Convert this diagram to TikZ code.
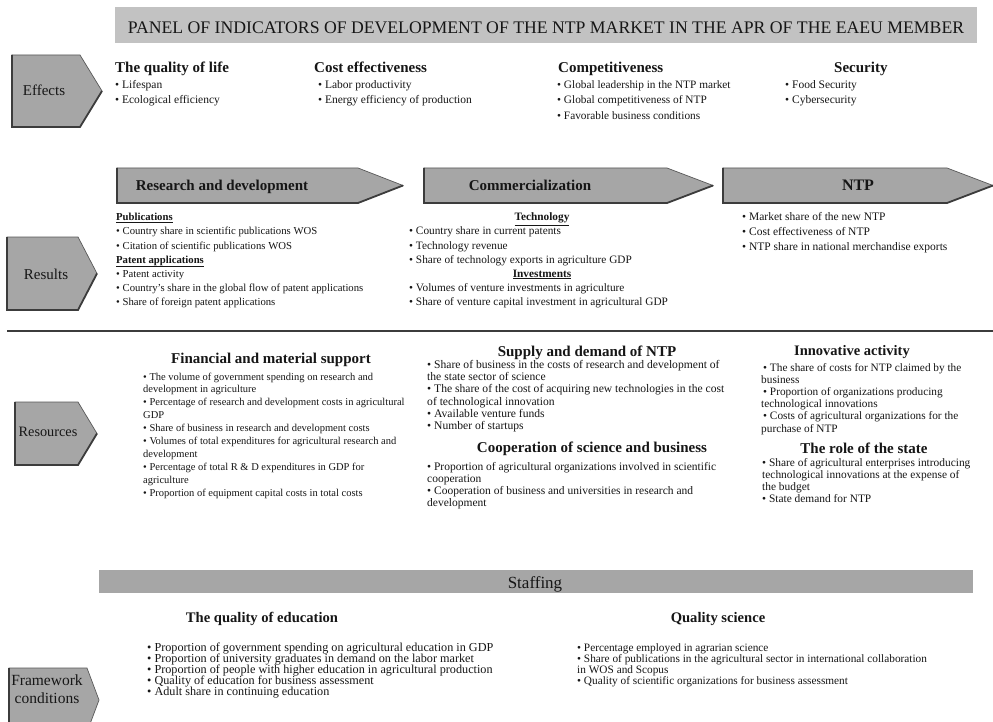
\documentclass[tikz,border=0pt]{standalone}
\usepackage{fontspec}
\setmainfont{Liberation Serif}
\definecolor{bannergray}{RGB}{194,194,194}
\definecolor{boxgray}{RGB}{166,166,166}
\definecolor{edgegray}{RGB}{88,88,88}
\definecolor{darkedge}{RGB}{60,60,60}
\definecolor{txt}{RGB}{22,22,22}
\tikzset{
  pent/.style={fill=boxgray, draw=edgegray, line width=0.7pt, line join=miter},
  pentedge/.style={draw=darkedge, line width=1.8pt, line join=miter},
  ttl/.style={inner sep=0, anchor=base, text=txt, font=\fontsize{17.7}{20}\selectfont},
  lbl/.style={inner sep=0, align=center, text=txt, font=\fontsize{15}{18}\selectfont},
  hd/.style={inner sep=0, anchor=base, text=txt, font=\fontsize{15}{18}\selectfont\bfseries},
  itm/.style={inner sep=0, anchor=base west, text=txt},
}
\begin{document}
\begin{tikzpicture}[x=1pt,y=-1pt]
\useasboundingbox (0,0) rectangle (993,722);
\fill[white] (0,0) rectangle (993,722);
\begin{scope}
\clip (0,0) rectangle (993,722);

% ---------- title banner ----------
\fill[bannergray] (115,7) rectangle (977,43);
\node[ttl] (title) at (546,34) {PANEL OF INDICATORS OF DEVELOPMENT OF THE NTP MARKET IN THE APR OF THE EAEU MEMBER};

% ---------- left pentagons ----------
\path[pent] (12,55) -- (80,55) -- (102,91) -- (80,127) -- (12,127) -- cycle;
\draw[pentedge] (12,55) -- (12,127) -- (80,127) -- (102,91);
\node[lbl] (leff) at (44,90) {Effects};

\path[pent] (7,237) -- (78,237) -- (97,273.5) -- (78,310) -- (7,310) -- cycle;
\draw[pentedge] (7,237) -- (7,310) -- (78,310) -- (97,273.5);
\node[lbl] (lres) at (46,274) {Results};

\path[pent] (15,402) -- (78,402) -- (97,433.5) -- (78,465) -- (15,465) -- cycle;
\draw[pentedge] (15,402) -- (15,465) -- (78,465) -- (97,433.5);
\node[lbl, font=\fontsize{14.3}{17}\selectfont] (lrsc) at (48,432) {Resources};

\path[pent] (9,668) -- (87,668) -- (99,700) -- (87,732) -- (9,732) -- cycle;
\draw[pentedge] (9,668) -- (9,732);
\node[lbl, font=\fontsize{15.5}{18.5}\selectfont] (lfw) at (47,689) {Framework\\conditions};

% ---------- Effects row ----------
\node[hd, anchor=base west] (hqol) at (115,73) {The quality of life};
\node[hd, anchor=base west] (hcost) at (314,73) {Cost effectiveness};
\node[hd, anchor=base west] (hcomp) at (558,73) {Competitiveness};
\node[hd, anchor=base west] (hsec) at (834,73) {Security};

\foreach \t [count=\i] in {{• Lifespan},{• Ecological efficiency}}
  \node[itm, font=\fontsize{11.5}{14}\selectfont] (qol\i) at (115,{88.5+(\i-1)*15.5}) {\t};
\foreach \t [count=\i] in {{• Labor productivity},{• Energy efficiency of production}}
  \node[itm, font=\fontsize{11.5}{14}\selectfont] (cost\i) at (318,{88.5+(\i-1)*15.5}) {\t};
\foreach \t [count=\i] in {{• Global leadership in the NTP market},{• Global competitiveness of NTP},{• Favorable business conditions}}
  \node[itm, font=\fontsize{11.3}{14}\selectfont] (comp\i) at (557,{88.5+(\i-1)*15.5}) {\t};
\foreach \t [count=\i] in {{• Food Security},{• Cybersecurity}}
  \node[itm, font=\fontsize{11.5}{14}\selectfont] (sec\i) at (785,{88.5+(\i-1)*15.5}) {\t};

% ---------- Results row: arrows ----------
\path[pent] (117,168) -- (358,168) -- (403,185.5) -- (358,203) -- (117,203) -- cycle;
\draw[pentedge] (117,168) -- (117,203) -- (358,203) -- (403,185.5);
\node[hd] (ard) at (222,190.5) {Research and development};

\path[pent] (424,168) -- (667,168) -- (713,185.5) -- (667,203) -- (424,203) -- cycle;
\draw[pentedge] (424,168) -- (424,203) -- (667,203) -- (713,185.5);
\node[hd] (acom) at (530,190.5) {Commercialization};

\path[pent] (723,168) -- (947,168) -- (993,185.5) -- (947,203) -- (723,203) -- cycle;
\draw[pentedge] (723,168) -- (723,203) -- (947,203) -- (993,185.5);
\node[hd, font=\fontsize{16}{18}\selectfont\bfseries] (antp) at (858,190.5) {NTP};

% ---------- Results row: texts ----------
\foreach \t [count=\i] in {{\underline{\textbf{Publications}}},{• Country share in scientific publications WOS},{• Citation of scientific publications WOS},{\underline{\textbf{Patent applications}}},{• Patent activity},{• Country’s share in the global flow of patent applications},{• Share of foreign patent applications}}
  \node[itm, font=\fontsize{10.7}{13}\selectfont] (rd\i) at (116,{221+(\i-1)*14}) {\t};

\node[itm, anchor=base, font=\fontsize{11.3}{13}\selectfont] (techh) at (542,221) {\underline{\textbf{Technology}}};
\foreach \t [count=\i] in {{• Country share in current patents},{• Technology revenue},{• Share of technology exports in agriculture GDP}}
  \node[itm, font=\fontsize{11.3}{13}\selectfont] (tech\i) at (409,{235+(\i-1)*14}) {\t};
\node[itm, anchor=base, font=\fontsize{11.3}{13}\selectfont] (invh) at (542,277) {\underline{\textbf{Investments}}};
\foreach \t [count=\i] in {{• Volumes of venture investments in agriculture},{• Share of venture capital investment in agricultural GDP}}
  \node[itm, font=\fontsize{11.3}{13}\selectfont] (inv\i) at (409,{291+(\i-1)*14}) {\t};

\foreach \t [count=\i] in {{• Market share of the new NTP},{• Cost effectiveness of NTP},{• NTP share in national merchandise exports}}
  \node[itm, font=\fontsize{11.5}{13}\selectfont] (ntp\i) at (742,{221+(\i-1)*15}) {\t};

% ---------- separator ----------
\coordinate (sepL) at (7,331);
\coordinate (sepR) at (993,331);
\draw[darkedge, line width=1.6pt] (sepL) -- (sepR);

% ---------- Resources row ----------
\node[hd] (hfin) at (271,363) {Financial and material support};
\foreach \t [count=\i] in {{• The volume of government spending on research and},{development in agriculture},{• Percentage of research and development costs in agricultural},{GDP},{• Share of business in research and development costs},{• Volumes of total expenditures for agricultural research and},{development},{• Percentage of total R \& D expenditures in GDP for},{agriculture},{• Proportion of equipment capital costs in total costs}}
  \node[itm, font=\fontsize{10.5}{12}\selectfont] (fin\i) at (143,{380+(\i-1)*12.9}) {\t};

\node[hd] (hsup) at (587,356) {Supply and demand of NTP};
\foreach \t [count=\i] in {{• Share of business in the costs of research and development of},{the state sector of science},{• The share of the cost of acquiring new technologies in the cost},{of technological innovation},{• Available venture funds},{• Number of startups}}
  \node[itm, font=\fontsize{11.6}{12}\selectfont] (sup\i) at (427,{368.5+(\i-1)*12.2}) {\t};

\node[hd] (hcoop) at (592,452) {Cooperation of science and business};
\foreach \t [count=\i] in {{• Proportion of agricultural organizations involved in scientific},{cooperation},{• Cooperation of business and universities in research and},{development}}
  \node[itm, font=\fontsize{11.5}{12}\selectfont] (coop\i) at (427,{470+(\i-1)*12}) {\t};

\node[hd, font=\fontsize{14.5}{18}\selectfont\bfseries] (hinn) at (852,355) {Innovative activity};
\foreach \t [count=\i] in {{\hspace*{2pt}• The share of costs for NTP claimed by the},{business},{\hspace*{2pt}• Proportion of organizations producing},{technological innovations},{\hspace*{2pt}• Costs of agricultural organizations for the},{purchase of NTP}}
  \node[itm, font=\fontsize{11.3}{12}\selectfont] (inn\i) at (761,{371+(\i-1)*12.2}) {\t};

\node[hd] (hrole) at (864,453) {The role of the state};
\foreach \t [count=\i] in {{• Share of agricultural enterprises introducing},{technological innovations at the expense of},{the budget},{• State demand for NTP}}
  \node[itm, font=\fontsize{11.4}{12}\selectfont] (role\i) at (762,{466+(\i-1)*12.3}) {\t};

% ---------- Staffing ----------
\fill[boxgray] (99,570) rectangle (973,593);
\node[ttl, font=\fontsize{17}{20}\selectfont] (staff) at (535,588) {Staffing};

% ---------- Framework row ----------
\node[hd, font=\fontsize{14.6}{18}\selectfont\bfseries] (hedu) at (262,622) {The quality of education};
\foreach \t [count=\i] in {{• Proportion of government spending on agricultural education in GDP},{• Proportion of university graduates in demand on the labor market},{• Proportion of people with higher education in agricultural production},{• Quality of education for business assessment},{• Adult share in continuing education}}
  \node[itm, font=\fontsize{12.2}{12}\selectfont] (edu\i) at (147,{651+(\i-1)*11}) {\t};

\node[hd, font=\fontsize{14.6}{18}\selectfont\bfseries] (hsci) at (718,622) {Quality science};
\foreach \t [count=\i] in {{• Percentage employed in agrarian science},{• Share of publications in the agricultural sector in international collaboration},{in WOS and Scopus},{• Quality of scientific organizations for business assessment}}
  \node[itm, font=\fontsize{11.3}{12}\selectfont] (sci\i) at (577,{651+(\i-1)*11.3}) {\t};
\end{scope}
\end{tikzpicture}
\end{document}
